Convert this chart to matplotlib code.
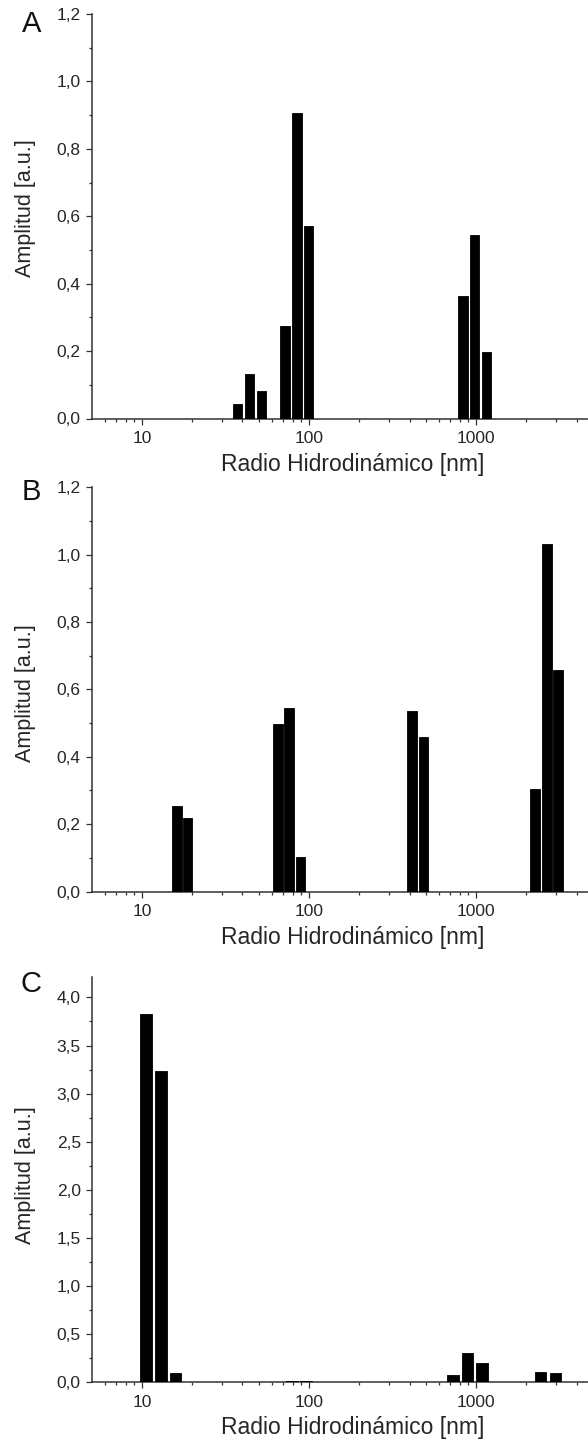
import numpy as np
import matplotlib
matplotlib.use("Agg")
import matplotlib.pyplot as plt
from matplotlib.ticker import FixedLocator, FuncFormatter, NullFormatter, MultipleLocator

plt.rcParams['font.family'] = ['Liberation Sans', 'DejaVu Sans']

# ---------------- data ----------------
a_size = [37.4, 44.2, 52.1, 71.9, 84.7, 99.6, 836, 982, 1159]
a_amp = [0.043, 0.132, 0.081, 0.275, 0.905, 0.571, 0.363, 0.543, 0.198]

b_size = [16.2, 18.8, 65.1, 76.0, 88.9, 415, 485, 2260, 2660, 3100]
b_amp = [0.254, 0.219, 0.497, 0.546, 0.103, 0.537, 0.460, 0.304, 1.032, 0.658]

c_size = [10.6, 13.0, 15.9, 79.3, 96.3, 728, 889, 1089, 2432, 2993]
c_amp = [3.826, 3.233, 0.092, 0.012, 0.008, 0.066, 0.296, 0.197, 0.105, 0.086]

panel_labels = ["A", "B", "C"]
x_major = [10, 100, 1000]
x_ticklabels = ["10", "100", "1000"]
xlabel = "Radio Hidrodinámico [nm]"
ylabel = "Amplitud [a.u.]"

# ---------------- layout ----------------
W, H = 588, 1447
fig = plt.figure(figsize=(W / 100, H / 100), dpi=100)
fig.patch.set_facecolor("white")

TXT = "#262626"
SP = "#333333"


def px_axes(left, top, right, bottom):
    return fig.add_axes([left / W, 1 - bottom / H, (right - left) / W, (bottom - top) / H])


XL = (10 ** 0.703, 10 ** 3.826)
panels = [
    dict(size=a_size, amp=a_amp, box=(92.3, 14.0, 614, 418.5), ylim=(0, 1.2),
         major=0.2, minor=0.1, bw=0.057, lab=(22, 32), ylab_y=0.52),
    dict(size=b_size, amp=b_amp, box=(92.3, 487.3, 614, 891.5), ylim=(0, 1.2),
         major=0.2, minor=0.1, bw=0.057, lab=(22, 500), ylab_y=0.49),
    dict(size=c_size, amp=c_amp, box=(92.3, 977.3, 614, 1381.7), ylim=(0, 4.21),
         major=0.5, minor=0.25, bw=0.070, lab=(20, 992), ylab_y=0.51),
]

comma = FuncFormatter(lambda v, p: f"{v:.1f}".replace(".", ","))

for p, lab in zip(panels, panel_labels):
    l, t, r, b = p["box"]
    ax = px_axes(l, t, r, b)
    size = np.array(p["size"])
    amp = np.array(p["amp"])
    hw = p["bw"] / 2
    left_edges = size * 10 ** (-hw)
    widths = size * (10 ** hw - 10 ** (-hw))
    ax.bar(left_edges, amp, width=widths, align="edge", color="black",
           edgecolor="black", linewidth=0.6, zorder=3)
    ax.set_xscale("log")
    ax.set_xlim(*XL)
    ax.set_ylim(*p["ylim"])

    for s in ["top", "right"]:
        ax.spines[s].set_visible(False)
    for s in ["left", "bottom"]:
        ax.spines[s].set_color(SP)
        ax.spines[s].set_linewidth(1.1)
    ax.set_facecolor("none")

    ax.xaxis.set_major_locator(FixedLocator(x_major))
    ax.set_xticklabels(x_ticklabels)
    minors = [m * 10 ** e for e in range(0, 4) for m in range(2, 10)]
    ax.xaxis.set_minor_locator(FixedLocator(minors))
    ax.xaxis.set_minor_formatter(NullFormatter())

    ax.yaxis.set_major_locator(MultipleLocator(p["major"]))
    ax.yaxis.set_minor_locator(MultipleLocator(p["minor"]))
    ax.yaxis.set_major_formatter(comma)

    ax.tick_params(axis="both", which="major", direction="out", length=4.3, width=0.9,
                   color=SP, labelsize=12.5, labelcolor=TXT)
    ax.tick_params(axis="both", which="minor", direction="out", length=2.3, width=0.9,
                   color=SP)
    ax.tick_params(axis="x", which="major", pad=5)
    ax.tick_params(axis="y", which="major", pad=4)

    aw = r - l
    ah = b - t
    ax.set_xlabel(xlabel, fontsize=16.5, color=TXT)
    ax.xaxis.set_label_coords((353 - l) / aw, -(46 / ah))
    ax.xaxis.label.set_va("center")

    ax.set_ylabel(ylabel, fontsize=15.5, color=TXT)
    ax.yaxis.set_label_coords((25 - l) / aw, p["ylab_y"])
    ax.yaxis.label.set_va("center")

    fig.text(p["lab"][0] / W, 1 - p["lab"][1] / H, lab, fontsize=21,
             color="#111111", ha="left", va="baseline")

fig.savefig("out.png", dpi=100, facecolor="white")
